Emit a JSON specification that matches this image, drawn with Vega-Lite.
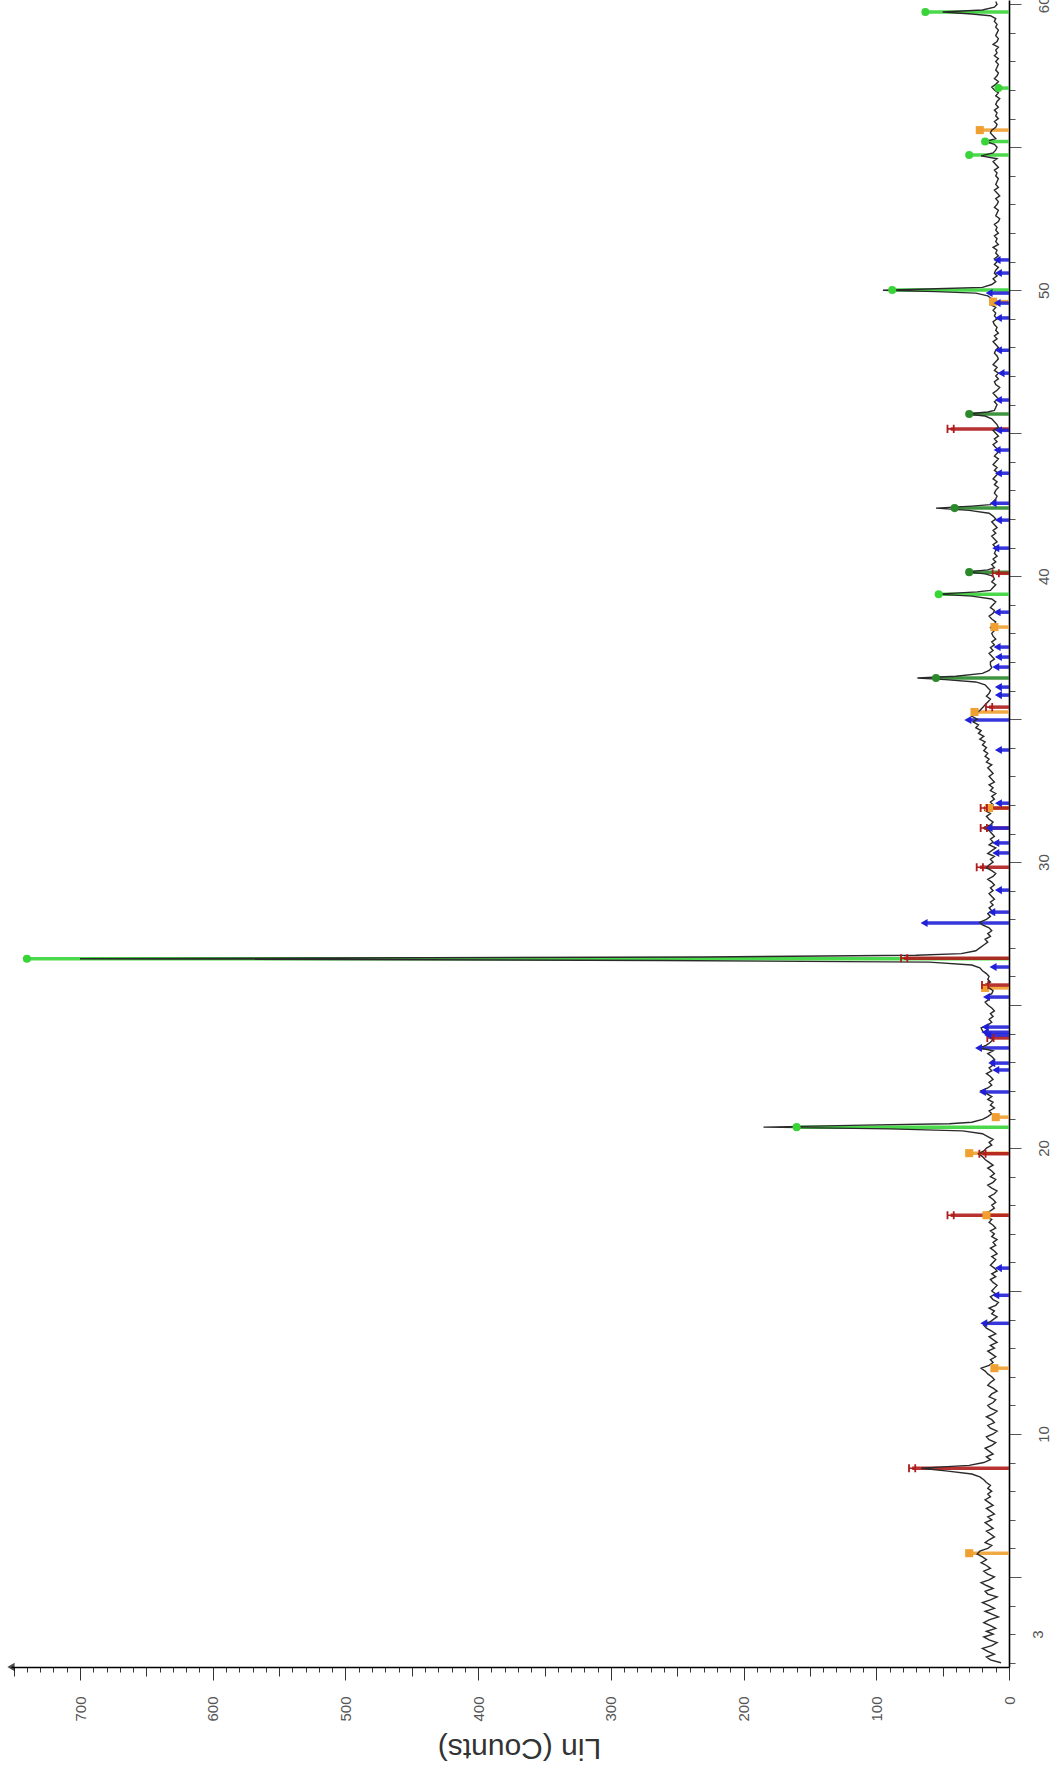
{
"$schema": "https://vega.github.io/schema/vega-lite/v6.json",
"width": 998, "height": 1667,
"autosize": {"type": "none"},
"padding": {"left": 11, "top": 0, "right": 53, "bottom": 102},
"background": "white",
"config": {"view": {"stroke": null}, "axis": {"labelFont": "Liberation Sans", "titleFont": "Liberation Sans", "grid": false, "labelOverlap": false, "labelBound": false, "labelFlush": false}},
"datasets": {
"xrd": [
{"t":2.0,"c":6},{"t":2.1,"c":14},{"t":2.2,"c":17},{"t":2.3,"c":11},{"t":2.4,"c":16},{"t":2.5,"c":20},{"t":2.6,"c":13},{"t":2.7,"c":9},{"t":2.8,"c":15},{"t":2.9,"c":19},
{"t":3.0,"c":12},{"t":3.1,"c":17},{"t":3.2,"c":10},{"t":3.3,"c":14},{"t":3.4,"c":19},{"t":3.5,"c":15},{"t":3.6,"c":8},{"t":3.7,"c":13},{"t":3.8,"c":18},{"t":3.9,"c":11},
{"t":4.0,"c":15},{"t":4.1,"c":20},{"t":4.2,"c":14},{"t":4.3,"c":9},{"t":4.4,"c":16},{"t":4.5,"c":18},{"t":4.6,"c":12},{"t":4.7,"c":17},{"t":4.8,"c":21},{"t":4.9,"c":15},
{"t":5.0,"c":11},{"t":5.1,"c":16},{"t":5.2,"c":19},{"t":5.3,"c":14},{"t":5.4,"c":17},{"t":5.5,"c":21},{"t":5.6,"c":17},{"t":5.7,"c":20},{"t":5.8,"c":24},{"t":5.9,"c":22},
{"t":6.0,"c":16},{"t":6.1,"c":13},{"t":6.2,"c":18},{"t":6.3,"c":15},{"t":6.4,"c":11},{"t":6.5,"c":14},{"t":6.6,"c":17},{"t":6.7,"c":12},{"t":6.8,"c":15},{"t":6.9,"c":18},
{"t":7.0,"c":13},{"t":7.1,"c":16},{"t":7.2,"c":11},{"t":7.3,"c":14},{"t":7.4,"c":17},{"t":7.5,"c":12},{"t":7.6,"c":15},{"t":7.7,"c":18},{"t":7.8,"c":14},{"t":7.9,"c":16},
{"t":8.0,"c":13},{"t":8.1,"c":16},{"t":8.2,"c":14},{"t":8.3,"c":17},{"t":8.4,"c":19},{"t":8.5,"c":22},{"t":8.6,"c":28},{"t":8.7,"c":46},{"t":8.8,"c":66},{"t":8.85,"c":50},{"t":8.9,"c":30},
{"t":9.0,"c":19},{"t":9.1,"c":14},{"t":9.2,"c":17},{"t":9.3,"c":12},{"t":9.4,"c":15},{"t":9.5,"c":18},{"t":9.6,"c":13},{"t":9.7,"c":10},{"t":9.8,"c":15},{"t":9.9,"c":17},
{"t":10.0,"c":12},{"t":10.1,"c":9},{"t":10.2,"c":14},{"t":10.3,"c":16},{"t":10.4,"c":11},{"t":10.5,"c":13},{"t":10.6,"c":17},{"t":10.7,"c":12},{"t":10.8,"c":9},{"t":10.9,"c":14},
{"t":11.0,"c":16},{"t":11.1,"c":12},{"t":11.2,"c":10},{"t":11.3,"c":15},{"t":11.4,"c":13},{"t":11.5,"c":9},{"t":11.6,"c":12},{"t":11.7,"c":16},{"t":11.8,"c":14},{"t":11.9,"c":11},
{"t":12.0,"c":13},{"t":12.1,"c":16},{"t":12.2,"c":18},{"t":12.3,"c":21},{"t":12.4,"c":15},{"t":12.5,"c":12},{"t":12.6,"c":14},{"t":12.7,"c":10},{"t":12.8,"c":13},{"t":12.9,"c":16},
{"t":13.0,"c":11},{"t":13.1,"c":14},{"t":13.2,"c":9},{"t":13.3,"c":12},{"t":13.4,"c":15},{"t":13.5,"c":10},{"t":13.6,"c":13},{"t":13.7,"c":17},{"t":13.8,"c":19},{"t":13.9,"c":15},
{"t":14.0,"c":12},{"t":14.1,"c":9},{"t":14.2,"c":13},{"t":14.3,"c":11},{"t":14.4,"c":15},{"t":14.5,"c":10},{"t":14.6,"c":8},{"t":14.7,"c":12},{"t":14.8,"c":14},{"t":14.9,"c":10},
{"t":15.0,"c":13},{"t":15.1,"c":11},{"t":15.2,"c":9},{"t":15.3,"c":12},{"t":15.4,"c":14},{"t":15.5,"c":10},{"t":15.6,"c":13},{"t":15.7,"c":9},{"t":15.8,"c":11},{"t":15.9,"c":14},
{"t":16.0,"c":12},{"t":16.1,"c":10},{"t":16.2,"c":13},{"t":16.3,"c":9},{"t":16.4,"c":11},{"t":16.5,"c":14},{"t":16.6,"c":10},{"t":16.7,"c":12},{"t":16.8,"c":9},{"t":16.9,"c":13},
{"t":17.0,"c":11},{"t":17.1,"c":14},{"t":17.2,"c":10},{"t":17.3,"c":12},{"t":17.4,"c":15},{"t":17.5,"c":13},{"t":17.6,"c":17},{"t":17.7,"c":19},{"t":17.8,"c":14},{"t":17.9,"c":11},
{"t":18.0,"c":13},{"t":18.1,"c":10},{"t":18.2,"c":12},{"t":18.3,"c":15},{"t":18.4,"c":11},{"t":18.5,"c":9},{"t":18.6,"c":13},{"t":18.7,"c":16},{"t":18.8,"c":12},{"t":18.9,"c":10},
{"t":19.0,"c":14},{"t":19.1,"c":11},{"t":19.2,"c":13},{"t":19.3,"c":16},{"t":19.4,"c":12},{"t":19.5,"c":15},{"t":19.6,"c":18},{"t":19.7,"c":20},{"t":19.8,"c":23},{"t":19.9,"c":19},
{"t":20.0,"c":17},{"t":20.1,"c":13},{"t":20.2,"c":15},{"t":20.3,"c":12},{"t":20.4,"c":16},{"t":20.5,"c":20},{"t":20.6,"c":35},{"t":20.67,"c":90},{"t":20.73,"c":185},{"t":20.8,"c":110},{"t":20.85,"c":45},{"t":20.9,"c":28},
{"t":21.0,"c":20},{"t":21.1,"c":16},{"t":21.2,"c":13},{"t":21.3,"c":15},{"t":21.4,"c":11},{"t":21.5,"c":14},{"t":21.6,"c":12},{"t":21.7,"c":16},{"t":21.8,"c":13},{"t":21.9,"c":17},
{"t":22.0,"c":21},{"t":22.1,"c":16},{"t":22.2,"c":13},{"t":22.3,"c":15},{"t":22.4,"c":12},{"t":22.5,"c":14},{"t":22.6,"c":17},{"t":22.7,"c":13},{"t":22.8,"c":15},{"t":22.9,"c":12},
{"t":23.0,"c":14},{"t":23.1,"c":11},{"t":23.2,"c":13},{"t":23.3,"c":16},{"t":23.4,"c":12},{"t":23.5,"c":22},{"t":23.6,"c":17},{"t":23.7,"c":14},{"t":23.8,"c":12},{"t":23.9,"c":15},
{"t":24.0,"c":18},{"t":24.1,"c":20},{"t":24.2,"c":21},{"t":24.3,"c":16},{"t":24.4,"c":13},{"t":24.5,"c":15},{"t":24.6,"c":12},{"t":24.7,"c":14},{"t":24.8,"c":11},{"t":24.9,"c":13},
{"t":25.0,"c":16},{"t":25.1,"c":18},{"t":25.2,"c":15},{"t":25.3,"c":17},{"t":25.4,"c":13},{"t":25.5,"c":12},{"t":25.6,"c":15},{"t":25.7,"c":18},{"t":25.8,"c":14},{"t":25.9,"c":16},
{"t":26.0,"c":15},{"t":26.1,"c":17},{"t":26.2,"c":20},{"t":26.3,"c":22},{"t":26.4,"c":28},{"t":26.5,"c":60},{"t":26.56,"c":260},{"t":26.62,"c":700},{"t":26.68,"c":230},{"t":26.74,"c":70},{"t":26.8,"c":36},{"t":26.9,"c":25},
{"t":27.0,"c":22},{"t":27.1,"c":19},{"t":27.2,"c":16},{"t":27.3,"c":18},{"t":27.4,"c":14},{"t":27.5,"c":16},{"t":27.6,"c":13},{"t":27.7,"c":15},{"t":27.8,"c":20},{"t":27.9,"c":22},
{"t":28.0,"c":17},{"t":28.1,"c":14},{"t":28.2,"c":16},{"t":28.3,"c":13},{"t":28.4,"c":15},{"t":28.5,"c":12},{"t":28.6,"c":14},{"t":28.7,"c":11},{"t":28.8,"c":13},{"t":28.9,"c":15},
{"t":29.0,"c":12},{"t":29.1,"c":14},{"t":29.2,"c":11},{"t":29.3,"c":13},{"t":29.4,"c":16},{"t":29.5,"c":12},{"t":29.6,"c":10},{"t":29.7,"c":13},{"t":29.8,"c":17},{"t":29.9,"c":15},
{"t":30.0,"c":12},{"t":30.1,"c":14},{"t":30.2,"c":11},{"t":30.3,"c":16},{"t":30.4,"c":13},{"t":30.5,"c":10},{"t":30.6,"c":15},{"t":30.7,"c":12},{"t":30.8,"c":14},{"t":30.9,"c":11},
{"t":31.0,"c":13},{"t":31.1,"c":15},{"t":31.2,"c":19},{"t":31.3,"c":14},{"t":31.4,"c":12},{"t":31.5,"c":15},{"t":31.6,"c":17},{"t":31.7,"c":14},{"t":31.8,"c":18},{"t":31.9,"c":15},
{"t":32.0,"c":12},{"t":32.1,"c":14},{"t":32.2,"c":11},{"t":32.3,"c":13},{"t":32.4,"c":10},{"t":32.5,"c":14},{"t":32.6,"c":12},{"t":32.7,"c":15},{"t":32.8,"c":11},{"t":32.9,"c":13},
{"t":33.0,"c":15},{"t":33.1,"c":12},{"t":33.2,"c":14},{"t":33.3,"c":16},{"t":33.4,"c":13},{"t":33.5,"c":17},{"t":33.6,"c":15},{"t":33.7,"c":18},{"t":33.8,"c":16},{"t":33.9,"c":19},
{"t":34.0,"c":17},{"t":34.1,"c":20},{"t":34.2,"c":18},{"t":34.3,"c":22},{"t":34.4,"c":19},{"t":34.5,"c":23},{"t":34.6,"c":21},{"t":34.7,"c":25},{"t":34.8,"c":23},{"t":34.9,"c":27},
{"t":35.0,"c":24},{"t":35.1,"c":28},{"t":35.2,"c":25},{"t":35.3,"c":22},{"t":35.4,"c":20},{"t":35.5,"c":18},{"t":35.6,"c":16},{"t":35.7,"c":14},{"t":35.8,"c":17},{"t":35.9,"c":15},
{"t":36.0,"c":14},{"t":36.1,"c":16},{"t":36.2,"c":18},{"t":36.3,"c":25},{"t":36.38,"c":48},{"t":36.44,"c":69},{"t":36.5,"c":40},{"t":36.6,"c":20},{"t":36.7,"c":15},{"t":36.8,"c":13},{"t":36.9,"c":14},
{"t":37.0,"c":14},{"t":37.1,"c":11},{"t":37.2,"c":13},{"t":37.3,"c":15},{"t":37.4,"c":12},{"t":37.5,"c":14},{"t":37.6,"c":11},{"t":37.7,"c":13},{"t":37.8,"c":10},{"t":37.9,"c":12},
{"t":38.0,"c":13},{"t":38.1,"c":11},{"t":38.2,"c":14},{"t":38.3,"c":12},{"t":38.4,"c":10},{"t":38.5,"c":13},{"t":38.6,"c":15},{"t":38.7,"c":12},{"t":38.8,"c":11},{"t":38.9,"c":14},
{"t":39.0,"c":12},{"t":39.1,"c":10},{"t":39.2,"c":13},{"t":39.3,"c":28},{"t":39.37,"c":54},{"t":39.45,"c":24},{"t":39.5,"c":14},{"t":39.6,"c":12},{"t":39.7,"c":10},{"t":39.8,"c":13},{"t":39.9,"c":11},
{"t":40.0,"c":12},{"t":40.08,"c":18},{"t":40.15,"c":32},{"t":40.22,"c":16},{"t":40.3,"c":11},{"t":40.4,"c":13},{"t":40.5,"c":10},{"t":40.6,"c":12},{"t":40.7,"c":9},{"t":40.8,"c":11},{"t":40.9,"c":10},
{"t":41.0,"c":10},{"t":41.1,"c":12},{"t":41.2,"c":9},{"t":41.3,"c":11},{"t":41.4,"c":13},{"t":41.5,"c":10},{"t":41.6,"c":12},{"t":41.7,"c":9},{"t":41.8,"c":11},{"t":41.9,"c":13},
{"t":42.0,"c":10},{"t":42.1,"c":12},{"t":42.2,"c":15},{"t":42.3,"c":30},{"t":42.38,"c":55},{"t":42.45,"c":28},{"t":42.5,"c":14},{"t":42.6,"c":12},{"t":42.7,"c":10},{"t":42.8,"c":9},{"t":42.9,"c":11},
{"t":43.0,"c":10},{"t":43.1,"c":8},{"t":43.2,"c":11},{"t":43.3,"c":9},{"t":43.4,"c":12},{"t":43.5,"c":10},{"t":43.6,"c":8},{"t":43.7,"c":11},{"t":43.8,"c":9},{"t":43.9,"c":12},
{"t":44.0,"c":10},{"t":44.1,"c":8},{"t":44.2,"c":11},{"t":44.3,"c":9},{"t":44.4,"c":7},{"t":44.5,"c":10},{"t":44.6,"c":12},{"t":44.7,"c":9},{"t":44.8,"c":11},{"t":44.9,"c":8},
{"t":45.0,"c":10},{"t":45.1,"c":12},{"t":45.2,"c":8},{"t":45.3,"c":9},{"t":45.4,"c":11},{"t":45.5,"c":13},{"t":45.6,"c":18},{"t":45.67,"c":32},{"t":45.74,"c":16},{"t":45.8,"c":11},{"t":45.9,"c":10},
{"t":46.0,"c":9},{"t":46.1,"c":11},{"t":46.2,"c":8},{"t":46.3,"c":10},{"t":46.4,"c":12},{"t":46.5,"c":9},{"t":46.6,"c":7},{"t":46.7,"c":10},{"t":46.8,"c":11},{"t":46.9,"c":8},
{"t":47.0,"c":10},{"t":47.1,"c":8},{"t":47.2,"c":11},{"t":47.3,"c":9},{"t":47.4,"c":12},{"t":47.5,"c":10},{"t":47.6,"c":8},{"t":47.7,"c":9},{"t":47.8,"c":11},{"t":47.9,"c":10},
{"t":48.0,"c":8},{"t":48.1,"c":10},{"t":48.2,"c":12},{"t":48.3,"c":9},{"t":48.4,"c":11},{"t":48.5,"c":8},{"t":48.6,"c":10},{"t":48.7,"c":9},{"t":48.8,"c":11},{"t":48.9,"c":12},
{"t":49.0,"c":9},{"t":49.1,"c":11},{"t":49.2,"c":10},{"t":49.3,"c":12},{"t":49.4,"c":10},{"t":49.5,"c":14},{"t":49.6,"c":11},{"t":49.7,"c":13},{"t":49.8,"c":16},{"t":49.9,"c":25},{"t":49.95,"c":55},
{"t":50.0,"c":95},{"t":50.05,"c":55},{"t":50.1,"c":20},{"t":50.2,"c":13},{"t":50.3,"c":10},{"t":50.4,"c":12},{"t":50.5,"c":9},{"t":50.6,"c":11},{"t":50.7,"c":10},{"t":50.8,"c":8},{"t":50.9,"c":11},
{"t":51.0,"c":9},{"t":51.1,"c":11},{"t":51.2,"c":8},{"t":51.3,"c":10},{"t":51.4,"c":9},{"t":51.5,"c":12},{"t":51.6,"c":8},{"t":51.7,"c":10},{"t":51.8,"c":9},{"t":51.9,"c":11},
{"t":52.0,"c":8},{"t":52.1,"c":10},{"t":52.2,"c":9},{"t":52.3,"c":11},{"t":52.4,"c":8},{"t":52.5,"c":7},{"t":52.6,"c":10},{"t":52.7,"c":9},{"t":52.8,"c":8},{"t":52.9,"c":11},
{"t":53.0,"c":9},{"t":53.1,"c":8},{"t":53.2,"c":10},{"t":53.3,"c":7},{"t":53.4,"c":9},{"t":53.5,"c":11},{"t":53.6,"c":8},{"t":53.7,"c":10},{"t":53.8,"c":9},{"t":53.9,"c":8},
{"t":54.0,"c":10},{"t":54.1,"c":9},{"t":54.2,"c":11},{"t":54.3,"c":8},{"t":54.4,"c":10},{"t":54.5,"c":12},{"t":54.6,"c":9},{"t":54.7,"c":21},{"t":54.8,"c":12},{"t":54.9,"c":10},
{"t":55.0,"c":9},{"t":55.1,"c":11},{"t":55.2,"c":18},{"t":55.3,"c":10},{"t":55.4,"c":12},{"t":55.5,"c":14},{"t":55.6,"c":13},{"t":55.7,"c":10},{"t":55.8,"c":9},{"t":55.9,"c":11},
{"t":56.0,"c":8},{"t":56.1,"c":10},{"t":56.2,"c":9},{"t":56.3,"c":11},{"t":56.4,"c":8},{"t":56.5,"c":10},{"t":56.6,"c":9},{"t":56.7,"c":7},{"t":56.8,"c":10},{"t":56.9,"c":8},
{"t":57.0,"c":11},{"t":57.1,"c":13},{"t":57.2,"c":10},{"t":57.3,"c":8},{"t":57.4,"c":11},{"t":57.5,"c":9},{"t":57.6,"c":8},{"t":57.7,"c":10},{"t":57.8,"c":9},{"t":57.9,"c":8},
{"t":58.0,"c":10},{"t":58.1,"c":8},{"t":58.2,"c":11},{"t":58.3,"c":9},{"t":58.4,"c":10},{"t":58.5,"c":8},{"t":58.6,"c":12},{"t":58.7,"c":9},{"t":58.8,"c":8},{"t":58.9,"c":10},
{"t":59.0,"c":9},{"t":59.1,"c":8},{"t":59.2,"c":10},{"t":59.3,"c":9},{"t":59.4,"c":11},{"t":59.5,"c":10},{"t":59.6,"c":14},{"t":59.66,"c":28},{"t":59.73,"c":50},{"t":59.8,"c":20},{"t":59.9,"c":11},
{"t":60.0,"c":9},{"t":60.1,"c":10}
],
"sticks": [
{"t":20.73,"c":160,"p":"G"},{"t":26.62,"c":740,"p":"G"},{"t":39.37,"c":53,"p":"G"},{"t":50.01,"c":88,"p":"G"},{"t":54.73,"c":30,"p":"G"},{"t":55.2,"c":18,"p":"G"},{"t":57.07,"c":8,"p":"G"},{"t":59.73,"c":63,"p":"G"},
{"t":36.44,"c":55,"p":"D"},{"t":40.14,"c":30,"p":"D"},{"t":42.38,"c":41,"p":"D"},{"t":45.67,"c":30,"p":"D"},
{"t":5.83,"c":30,"p":"O"},{"t":12.3,"c":11,"p":"O"},{"t":17.65,"c":17,"p":"O"},{"t":19.82,"c":30,"p":"O"},{"t":21.08,"c":10,"p":"O"},{"t":25.6,"c":18,"p":"O"},{"t":31.89,"c":15,"p":"O"},{"t":35.25,"c":26,"p":"O"},{"t":38.22,"c":11,"p":"O"},{"t":49.6,"c":12,"p":"O"},{"t":55.6,"c":22,"p":"O"},
{"t":8.8,"c":73,"p":"R"},{"t":17.65,"c":44,"p":"R"},{"t":19.8,"c":20,"p":"R"},{"t":23.85,"c":14,"p":"R"},{"t":25.7,"c":18,"p":"R"},{"t":26.64,"c":79,"p":"R"},{"t":29.82,"c":22,"p":"R"},{"t":31.19,"c":19,"p":"R"},{"t":31.89,"c":19,"p":"R"},{"t":35.42,"c":15,"p":"R"},{"t":40.1,"c":10,"p":"R"},{"t":45.15,"c":44,"p":"R"},
{"t":13.87,"c":19,"p":"B"},{"t":14.85,"c":10,"p":"B"},{"t":15.8,"c":8,"p":"B"},{"t":21.96,"c":20,"p":"B"},{"t":22.73,"c":10,"p":"B"},{"t":22.97,"c":13,"p":"B"},{"t":23.5,"c":23,"p":"B"},{"t":23.95,"c":16,"p":"B"},{"t":24.05,"c":18,"p":"B"},{"t":24.23,"c":18,"p":"B"},{"t":25.28,"c":17,"p":"B"},{"t":26.33,"c":12,"p":"B"},{"t":27.87,"c":64,"p":"B"},{"t":28.25,"c":13,"p":"B"},{"t":29.02,"c":8,"p":"B"},{"t":30.32,"c":10,"p":"B"},{"t":30.67,"c":10,"p":"B"},{"t":31.19,"c":15,"p":"B"},{"t":32.06,"c":8,"p":"B"},{"t":33.92,"c":8,"p":"B"},{"t":34.97,"c":31,"p":"B"},{"t":35.84,"c":8,"p":"B"},{"t":36.12,"c":8,"p":"B"},{"t":36.82,"c":10,"p":"B"},{"t":37.17,"c":8,"p":"B"},{"t":37.52,"c":9,"p":"B"},{"t":38.74,"c":9,"p":"B"},{"t":40.98,"c":10,"p":"B"},{"t":41.96,"c":8,"p":"B"},{"t":42.55,"c":12,"p":"B"},{"t":43.6,"c":8,"p":"B"},{"t":44.41,"c":9,"p":"B"},{"t":45.1,"c":8,"p":"B"},{"t":46.16,"c":8,"p":"B"},{"t":47.1,"c":6,"p":"B"},{"t":47.9,"c":8,"p":"B"},{"t":49.03,"c":8,"p":"B"},{"t":49.55,"c":9,"p":"B"},{"t":49.9,"c":15,"p":"B"},{"t":50.6,"c":8,"p":"B"},{"t":51.06,"c":9,"p":"B"}
],
"arrow": [{"t":1.85,"c":752}]
},
"layer": [
{
"data": {"name": "xrd"},
"mark": {"type": "line", "color": "#2a2a2a", "strokeWidth": 1.4, "opacity": 0},
"encoding": {
"x": {"field": "c", "type": "quantitative",
  "scale": {"domain": [0, 752], "reverse": true, "nice": false, "zero": false},
  "axis": {"orient": "bottom", "title": "Lin (Counts)", "titleAngle": 180, "titleFontSize": 30, "titleColor": "#333", "titleFontWeight": "normal",
    "titleX": 508, "titleY": 80, "titleAlign": "center", "titleBaseline": "middle",
    "tickCount": 1000,
    "values": [0,10,20,30,40,50,60,70,80,90,100,110,120,130,140,150,160,170,180,190,200,210,220,230,240,250,260,270,280,290,300,310,320,330,340,350,360,370,380,390,400,410,420,430,440,450,460,470,480,490,500,510,520,530,540,550,560,570,580,590,600,610,620,630,640,650,660,670,680,690,700,710,720,730,740,750],
    "labelExpr": "datum.value % 100 === 0 ? datum.label : ''",
    "format": "d", "labelAngle": 270, "labelAlign": "right", "labelBaseline": "middle", "labelFontSize": 15, "labelColor": "#555",
    "labelOverlap": false, "labelBound": false, "labelFlush": false, "labelPadding": 16,
    "tickSize": {"condition": [{"test": "datum.value % 100 === 0", "value": 13}, {"test": "datum.value % 50 === 0", "value": 9}], "value": 5},
    "tickColor": "#333", "domainColor": "#000", "domainWidth": 1.6}},
"y": {"field": "t", "type": "quantitative",
  "scale": {"domain": [1.85, 60.15], "nice": false, "zero": false},
  "axis": {"orient": "right", "title": null, "tickCount": 1000, "format": "d",
    "values": [2,3,4,5,6,7,8,9,10,11,12,13,14,15,16,17,18,19,20,21,22,23,24,25,26,27,28,29,30,31,32,33,34,35,36,37,38,39,40,41,42,43,44,45,46,47,48,49,50,51,52,53,54,55,56,57,58,59,60],
    "labelExpr": "indexof([3,10,20,30,40,50,60], datum.value) >= 0 ? datum.label : ''",
    "labelAngle": 270, "labelAlign": "center", "labelBaseline": "top", "labelFontSize": 15, "labelColor": "#555",
    "labelOverlap": false, "labelBound": false, "labelFlush": false, "labelPadding": 15,
    "tickSize": {"condition": {"test": "datum.value % 5 === 0", "value": 12}, "value": 6},
    "tickColor": "#555", "domainColor": "#000", "domainWidth": 1.6}},
"order": {"field": "t", "type": "quantitative"}
}
},
{
"data": {"name": "sticks"},
"mark": {"type": "rule", "strokeWidth": 3.5, "opacity": 0.9},
"encoding": {
"x": {"field": "c", "type": "quantitative"},
"x2": {"datum": 0},
"y": {"field": "t", "type": "quantitative"},
"color": {"field": "p", "type": "nominal", "scale": {"domain": ["G","D","O","R","B"], "range": ["#38d438","#2a8a2a","#f0a030","#b01c1c","#2020d8"]}, "legend": null}
}
},
{
"data": {"name": "xrd"},
"mark": {"type": "line", "color": "#2a2a2a", "strokeWidth": 1.4},
"encoding": {
"x": {"field": "c", "type": "quantitative"},
"y": {"field": "t", "type": "quantitative"},
"order": {"field": "t", "type": "quantitative"}
}
},
{
"data": {"name": "sticks"},
"mark": {"type": "point", "filled": true, "size": 65, "opacity": 1},
"encoding": {
"x": {"field": "c", "type": "quantitative"},
"y": {"field": "t", "type": "quantitative"},
"color": {"field": "p", "type": "nominal", "legend": null},
"shape": {"field": "p", "type": "nominal", "scale": {"domain": ["G","D","O","R","B"], "range": ["circle","circle","square","M-1,-1H-0.55V-0.2H0.55V-1H1V1H0.55V0.2H-0.55V1H-1Z","triangle-left"]}, "legend": null}
}
},
{
"data": {"name": "arrow"},
"mark": {"type": "point", "shape": "triangle-left", "filled": true, "color": "#000", "size": 70},
"encoding": {
"x": {"field": "c", "type": "quantitative"},
"y": {"field": "t", "type": "quantitative"}
}
}
]
}
